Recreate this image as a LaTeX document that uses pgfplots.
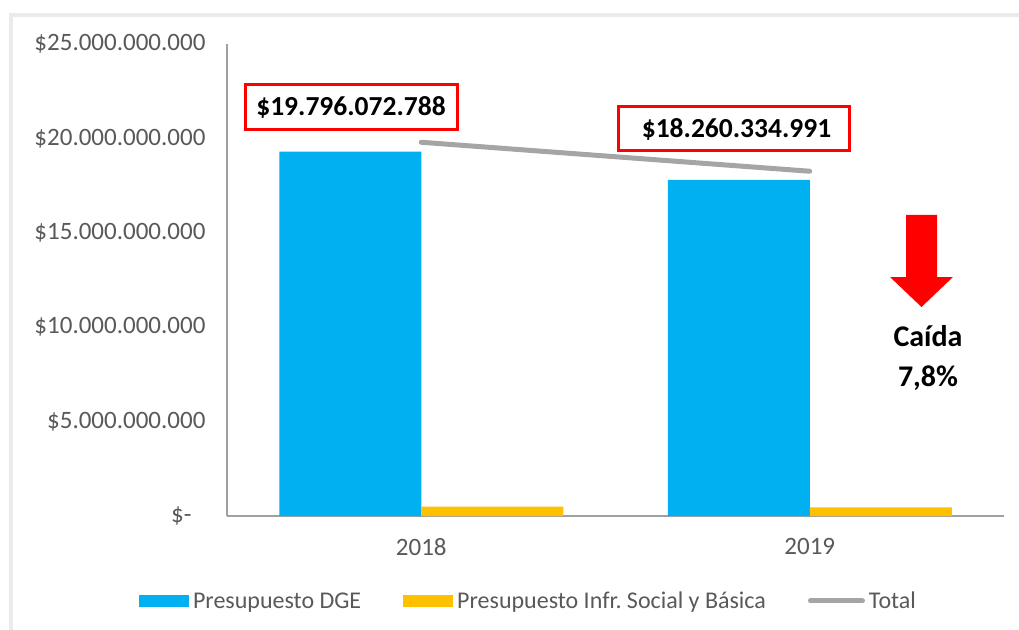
\documentclass[border=0pt]{standalone}
\usepackage{pgfplots}
\pgfplotsset{compat=1.18}
\usepackage{fontspec}
\setmainfont{Carlito}
\frenchspacing
\definecolor{dgeblue}{HTML}{00B0F0}
\definecolor{infyellow}{HTML}{FFC000}
\definecolor{totgray}{HTML}{A5A5A5}
\definecolor{txtgray}{HTML}{595959}
\definecolor{axgray}{HTML}{A0A0A0}
\definecolor{framegray}{HTML}{EBEBEB}
\begin{document}
\begin{tikzpicture}[x=1bp,y=-1bp]
\useasboundingbox (0,0) rectangle (1019,630);
\draw[framegray, line width=4bp] (11,15) rectangle (1040,650);
\begin{axis}[
	at={(227bp,-516bp)}, anchor=south west,
	width=777bp, height=472bp, scale only axis,
	xmin=-0.5, xmax=1.5, ymin=0, ymax=25e9,
	scaled y ticks=false,
	axis x line=bottom, axis y line=left,
	axis line style={axgray, line width=1.2bp, -},
	major tick length=0pt,
	xtick={0,1}, xticklabels={2018,2019},
	ytick={0,5e9,10e9,15e9,20e9,25e9},
	yticklabels={\$-\rule{14bp}{0pt}, \$5.000.000.000, \$10.000.000.000, \$15.000.000.000, \$20.000.000.000, \$25.000.000.000},
	ticklabel style={font=\fontsize{25bp}{30bp}\selectfont, text=txtgray},
	yticklabel style={xshift=-18bp},
	xticklabel style={yshift=-19bp},
	clip=false,
	legend columns=3,
	legend style={at={(0.388,-0.18)}, anchor=center, draw=none, fill=none,
		font=\fontsize{24bp}{29bp}\selectfont, text=txtgray,
		/tikz/every odd column/.append style={column sep=2bp},
		/tikz/every even column/.append style={column sep=40bp},
		inner sep=0pt},
	legend cell align=left,
]
\addplot[ybar, bar width=142bp, bar shift=-71bp, fill=dgeblue, draw=none,
	legend image code/.code={\fill[dgeblue] (0bp,-6bp) rectangle (50bp,6bp);}]
coordinates{
	(0, 19.30e9)
	(1, 17.80e9)
};
\addlegendentry{Presupuesto DGE}

\addplot[ybar, bar width=142bp, bar shift=71bp, fill=infyellow, draw=none,
	legend image code/.code={\fill[infyellow] (0bp,-6bp) rectangle (50bp,6bp);}]
coordinates{
	(0, 0.496e9)
	(1, 0.460e9)
};
\addlegendentry{Presupuesto Infr. Social y Básica}

\addplot[totgray, line width=5bp, line cap=round, mark=none,
	legend image code/.code={\draw[totgray, line width=5bp, line cap=round] (2bp,0bp) -- (54bp,0bp);}]
coordinates{
	(0, 19.796072788e9)
	(1, 18.260334991e9)
};
\addlegendentry{Total}
\end{axis}
% data labels
\node[draw=red, line width=3bp, minimum width=212bp, minimum height=45bp, inner sep=0pt,
	font=\fontsize{27.5bp}{32bp}\selectfont\bfseries] at (351,107.5) {\$19.796.072.788};
\node[draw=red, line width=3bp, minimum width=231bp, minimum height=44bp, inner sep=0pt,
	font=\fontsize{27.5bp}{32bp}\selectfont\bfseries] at (733.5,129) {\hspace{6bp}\$18.260.334.991};
% arrow
\fill[red] (906,215) -- (937,215) -- (937,277) -- (953,277) -- (921.5,307) -- (890,277) -- (906,277) -- cycle;
\node[font=\fontsize{30bp}{40bp}\selectfont\bfseries, align=center] at (928,358) {Caída\\7,8\%};
\end{tikzpicture}
\end{document}
